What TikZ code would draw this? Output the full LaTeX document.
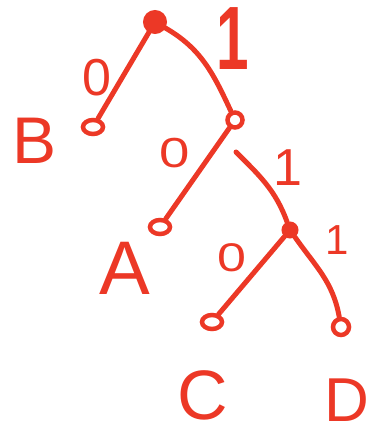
\documentclass[tikz,border=0pt]{standalone}
\usepackage{fontspec}
\setmainfont{Liberation Sans}
\definecolor{ink}{RGB}{236,56,38}
\begin{document}
\begin{tikzpicture}[x=1pt,y=-1pt,
  ink line/.style={draw=ink,line width=5pt,line cap=round,line join=round},
  leaf/.style={ellipse,draw=ink,line width=4.5pt,minimum width=20pt,minimum height=14pt,inner sep=0pt},
  open node/.style={circle,draw=ink,line width=4.5pt,minimum size=15pt,inner sep=0pt},
  blob/.style={circle,fill=ink,draw=ink,line width=3pt,minimum size=16pt,inner sep=0pt},
  letter/.style={text=ink,inner sep=0pt},
  bit/.style={text=ink,inner sep=0pt}]
\usetikzlibrary{shapes.geometric}
\useasboundingbox (0,0) rectangle (384,435);
% nodes
\node[blob,minimum size=21pt] (root) at (155,22) {};
\node[leaf] (B) at (93,127) {};
\node[open node] (R) at (235,120) {};
\node[leaf] (A) at (160,227) {};
\node[blob,minimum size=14pt] (N) at (290,230) {};
\node[leaf] (C) at (212,322) {};
\node[open node,minimum size=16pt] (D) at (341,327) {};
\coordinate (g) at (236,152);
% edges
\draw[ink line] (root) -- (B);
\draw[ink line] (root) to[out=-30,in=115] (R);
\draw[ink line] (R) -- (A);
\draw[ink line] (g) to[out=-45,in=110] (N);
\draw[ink line] (N) -- (C);
\draw[ink line] (N) to[out=-55,in=100] (D);
% bit labels
\node[bit,font=\fontsize{52}{52}\selectfont] (b0a) at (97,78) {0};
\node[bit,font=\bfseries\fontsize{90}{90}\selectfont,xscale=0.65] (b1a) at (233,39) {1};
\node[bit,font=\fontsize{42}{42}\selectfont,xscale=1.3] (b0b) at (175,153) {0};
\node[bit,font=\fontsize{52}{52}\selectfont] (b1b) at (288,168) {1};
\node[bit,font=\fontsize{40}{40}\selectfont,xscale=1.3] (b0c) at (232,258) {0};
\node[bit,font=\fontsize{42}{42}\selectfont] (b1c) at (337,240) {1};
% letters
\node[letter,font=\fontsize{66}{66}\selectfont] (lB) at (35,141) {B};
\node[letter,font=\fontsize{76}{76}\selectfont] (lA) at (125,268) {A};
\node[letter,font=\fontsize{70}{70}\selectfont] (lC) at (203,395) {C};
\node[letter,font=\fontsize{62}{62}\selectfont] (lD) at (347,400) {D};
\end{tikzpicture}
\end{document}
